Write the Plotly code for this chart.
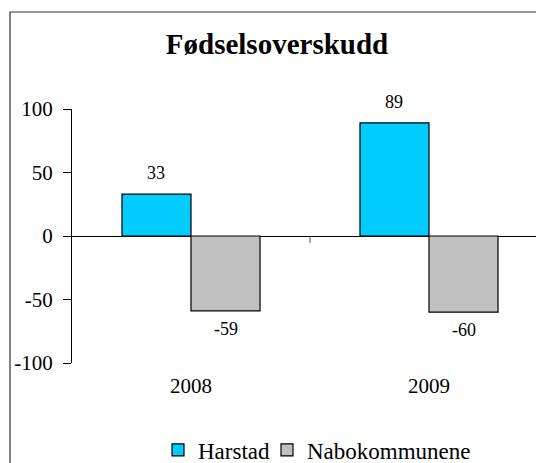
import plotly.graph_objects as go

years = ["2008", "2009"]
series_names = ["Harstad", "Nabokommunene"]
harstad = [33, 89]
nabokommunene = [-59, -60]
y_ticks = [-100, -50, 0, 50, 100]
title_text = "Fødselsoverskudd"

colors = ["#00CCFF", "#C0C0C0"]
FONT = "Liberation Serif"

W, H = 536, 463
ML, MR, MT, MB = 72, 0, 109, 100
plot_w = W - ML - MR
plot_h = H - MT - MB
cat_px = 238.0
x_right = -0.5 + plot_w / cat_px
bargap = 0.42
bar_px = cat_px * (1 - bargap) / 2

legend_names = ["legend", "legend2"]
legend_left_px = [158, 267]

fig = go.Figure()
for name, vals, col, lg in zip(series_names, [harstad, nabokommunene], colors, legend_names):
    fig.add_trace(go.Bar(
        x=years, y=vals, name=name, legend=lg,
        marker=dict(color=col, line=dict(color="#000000", width=1.2)),
        hoverinfo="skip",
    ))

annotations = []
for i, vals in enumerate([harstad, nabokommunene]):
    shift = (i - 0.5) * bar_px
    for j, v in enumerate(vals):
        annotations.append(dict(
            x=j, y=v, xref="x", yref="y", text=str(v), showarrow=False,
            xshift=shift, yshift=9 if v >= 0 else -6,
            yanchor="bottom" if v >= 0 else "top",
            font=dict(family=FONT, size=18, color="#000000"),
        ))

shapes = [
    # outer border (extends beyond right/bottom edges as in reference)
    dict(type="rect", xref="paper", yref="paper",
         x0=(10 - ML) / plot_w, x1=1.2,
         y0=-0.6, y1=(H - MB - 12) / plot_h,
         line=dict(color="#333333", width=1.2), fillcolor="rgba(0,0,0,0)", layer="below"),
    # category boundary tick on the zero line
    dict(type="line", xref="x", yref="y", x0=0.5, x1=0.5, y0=0, y1=-5.5,
         line=dict(color="#555555", width=1)),
]

legend_common = dict(orientation="h", xref="container", xanchor="left",
                     yref="container", y=1 - 450 / H, yanchor="middle",
                     font=dict(family=FONT, size=23, color="#000000"),
                     bgcolor="rgba(0,0,0,0)", itemclick=False, itemdoubleclick=False)

fig.update_layout(
    width=W, height=H,
    margin=dict(l=ML, r=MR, t=MT, b=MB),
    paper_bgcolor="#FFFFFF", plot_bgcolor="#FFFFFF",
    barmode="group", bargap=bargap, bargroupgap=0,
    font=dict(family=FONT, size=21, color="#000000"),
    title=dict(text="<b>%s</b>" % title_text, x=277 / W, xref="container", xanchor="center",
               y=1 - 44 / H, yref="container", yanchor="middle",
               font=dict(family=FONT, size=29, color="#000000")),
    showlegend=True,
    legend=dict(x=legend_left_px[0] / W, **legend_common),
    legend2=dict(x=legend_left_px[1] / W, **legend_common),
    annotations=annotations,
    shapes=shapes,
    xaxis=dict(type="category", range=[-0.5, x_right], showline=False, showgrid=False,
               zeroline=False, ticks="", ticklabelstandoff=8,
               tickfont=dict(family=FONT, size=21, color="#000000")),
    yaxis=dict(range=[-100, 100], tickvals=y_ticks, ticktext=[str(t) for t in y_ticks],
               showline=True, linecolor="#000000", linewidth=1,
               ticks="outside", ticklen=8, tickcolor="#000000", tickwidth=1,
               showgrid=False, zeroline=True, zerolinecolor="#000000", zerolinewidth=1.2,
               ticklabelstandoff=6,
               tickfont=dict(family=FONT, size=21, color="#000000")),
)

fig.write_html("out.html", config={"displayModeBar": False},
               post_script="document.body.style.margin='0';")
